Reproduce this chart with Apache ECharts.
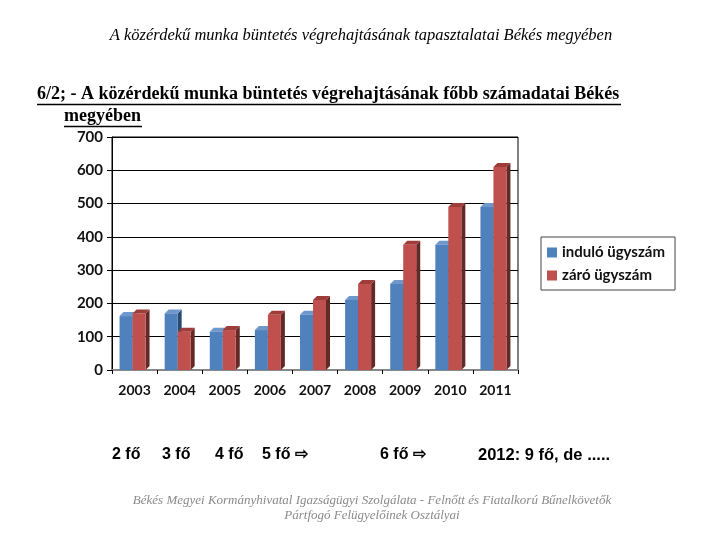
<!DOCTYPE html>
<html>
<head>
<meta charset="utf-8">
<script src="https://cdn.jsdelivr.net/npm/echarts@6/dist/echarts.min.js"></script>
<style>html,body{margin:0;padding:0;background:#fff}#c{width:720px;height:540px}</style>
</head>
<body>
<div id="c"></div>
<script>
const years = ['2003','2004','2005','2006','2007','2008','2009','2010','2011'];
const indulo = [162, 170, 115, 120, 166, 210, 258, 376, 490];
const zaro = [170, 115, 120, 166, 210, 258, 376, 490, 610];
const yTicks = [0, 100, 200, 300, 400, 500, 600, 700];
const seriesNames = ['induló ügyszám', 'záró ügyszám'];
const staffNotes = ['2 fő', '3 fő', '4 fő', '5 fő ⇨', '6 fő ⇨', '2012: 9 fő, de .....'];

const chart = echarts.init(document.getElementById('c'));

function make3D(offset, front, side, topc) {
  return function (params, api) {
    const cat = api.value(0), val = api.value(1);
    const b = api.coord([cat, 0]);
    const t = api.coord([cat, val]);
    const w = 13, d = 4, dy = 4;
    const x0 = b[0] + offset, x1 = x0 + w;
    const yb = b[1], yt = t[1];
    return {
      type: 'group',
      children: [
        { type: 'polygon', shape: { points: [[x1, yt], [x1 + d, yt - dy], [x1 + d, yb - dy], [x1, yb]] }, style: { fill: side } },
        { type: 'polygon', shape: { points: [[x0, yt], [x0 + d, yt - dy], [x1 + d, yt - dy], [x1, yt]] }, style: { fill: topc } },
        { type: 'rect', shape: { x: x0, y: yt, width: w, height: yb - yt }, style: { fill: front } }
      ]
    };
  };
}

const underline = (x1, x2, y) => ({ type: 'line', shape: { x1: x1, y1: y, x2: x2, y2: y }, style: { stroke: '#000', lineWidth: 1.5 } });
const noteXs = [112, 162, 215, 262, 380, 478];

chart.setOption({
  animation: false,
  backgroundColor: '#fff',
  grid: { left: 112, top: 137, width: 406, height: 233, show: true, borderColor: '#000', borderWidth: 1 },
  legend: {
    orient: 'vertical', left: 541, top: 237,
    padding: [8, 10, 7, 6], itemGap: 8, itemWidth: 10, itemHeight: 10,
    borderColor: '#444', borderWidth: 1,
    textStyle: { fontFamily: 'Lato', fontWeight: 'bold', fontSize: 15, color: '#111' },
    data: [
      { name: seriesNames[0], icon: 'rect', itemStyle: { color: '#4F81BD' } },
      { name: seriesNames[1], icon: 'rect', itemStyle: { color: '#C0504D' } }
    ]
  },
  xAxis: {
    type: 'category', data: years,
    axisLine: { lineStyle: { color: '#888', width: 2 } },
    axisTick: { show: true, length: 4, lineStyle: { color: '#000' } },
    axisLabel: { margin: 13, fontFamily: 'Lato', fontWeight: 'bold', fontSize: 14, color: '#111' }
  },
  yAxis: {
    type: 'value', min: yTicks[0], max: yTicks[yTicks.length - 1], interval: 100,
    axisLine: { show: true, lineStyle: { color: '#000' } },
    axisTick: { show: true, length: 5, lineStyle: { color: '#000' } },
    splitLine: { lineStyle: { color: '#000', width: 1 } },
    axisLabel: { margin: 9, fontFamily: 'Lato', fontWeight: 'bold', fontSize: 15, color: '#111' }
  },
  series: [
    { name: seriesNames[0], type: 'custom', itemStyle: { color: '#4F81BD' }, renderItem: make3D(-15, '#4F81BD', '#2A4A72', '#6E98CC'), data: indulo.map((v, i) => [i, v]) },
    { name: seriesNames[1], type: 'custom', itemStyle: { color: '#C0504D' }, renderItem: make3D(-2, '#C0504D', '#632927', '#9E3C39'), data: zaro.map((v, i) => [i, v]) }
  ],
  graphic: [
    { type: 'text', x: 361, y: 27, style: { text: 'A közérdekű munka büntetés végrehajtásának tapasztalatai Békés megyében', align: 'center', fontFamily: 'Liberation Serif', fontStyle: 'italic', fontSize: 16.5, fill: '#000' } },
    { type: 'text', left: 37, top: 85, style: { text: '6/2; - A közérdekű munka büntetés végrehajtásának főbb számadatai Békés', fontFamily: 'Liberation Serif', fontWeight: 'bold', fontSize: 18, fill: '#000' } },
    { type: 'text', left: 64, top: 107, style: { text: 'megyében', fontFamily: 'Liberation Serif', fontWeight: 'bold', fontSize: 18, fill: '#000' } },
    underline(37, 621, 104.5),
    underline(64, 142, 126.5),
    ...staffNotes.map((t, i) => ({ type: 'text', left: noteXs[i], top: 447, style: { text: t, fontFamily: 'Liberation Sans', fontWeight: 'bold', fontSize: i === 5 ? 16.5 : 16, fill: '#000' } })),
    { type: 'text', x: 372, y: 493, style: { text: 'Békés Megyei Kormányhivatal Igazságügyi Szolgálata - Felnőtt és Fiatalkorú Bűnelkövetők\nPártfogó Felügyelőinek Osztályai', align: 'center', lineHeight: 15, fontFamily: 'Liberation Serif', fontStyle: 'italic', fontSize: 13, fill: '#8a8a8a' } }
  ]
});
</script>
</body>
</html>
